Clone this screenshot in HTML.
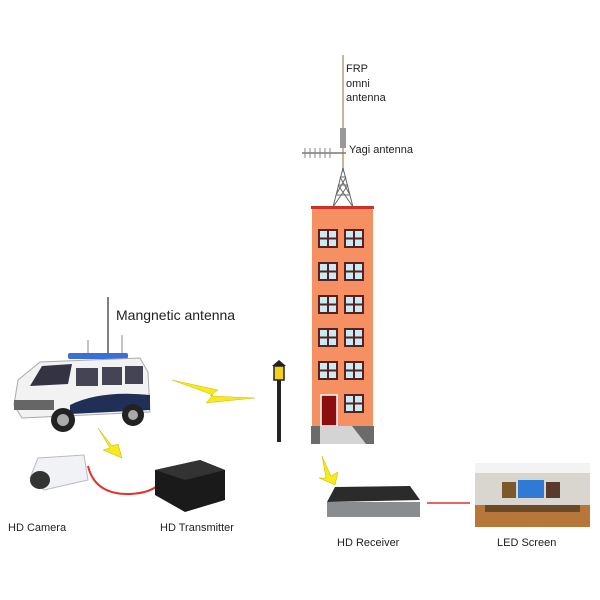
<!DOCTYPE html>
<html><head><style>body{margin:0;background:#fff}svg{display:block}text{font-family:"Liberation Sans",sans-serif;fill:#222}</style></head><body>
<svg width="600" height="600" viewBox="0 0 600 600">
<!-- antenna -->
<line x1="343" y1="55" x2="343" y2="172" stroke="#c9b49a" stroke-width="2"/>
<rect x="340" y="128" width="6" height="20" fill="#999"/>
<line x1="302" y1="153" x2="346" y2="153" stroke="#777" stroke-width="1.5"/>
<g stroke="#888" stroke-width="1"><line x1="305" y1="148" x2="305" y2="158"/><line x1="310" y1="148" x2="310" y2="158"/><line x1="315" y1="148" x2="315" y2="158"/><line x1="320" y1="148" x2="320" y2="158"/><line x1="325" y1="148" x2="325" y2="158"/><line x1="330" y1="148" x2="330" y2="158"/></g>
<g stroke="#666" stroke-width="1" fill="none"><path d="M343 168 L333 207 M343 168 L353 207 M336 195 L350 195 M338 185 L348 185 M340 177 L346 177 M333 207 L348 185 M353 207 L338 185 M336 195 L346 177 M350 195 L340 177"/></g>
<text x="346" y="72" font-size="11">FRP</text><text x="346" y="87" font-size="11">omni</text><text x="346" y="101" font-size="11">antenna</text>
<text x="349" y="153" font-size="11">Yagi antenna</text>
<!-- building -->
<rect x="312" y="208" width="61" height="218" fill="#f59063"/>
<rect x="311" y="206" width="63" height="3" fill="#c9332a"/>
<g fill="#c7ecf5" stroke="#5a1f1f" stroke-width="2">
<rect x="319" y="230" width="18" height="17"/><rect x="345" y="230" width="18" height="17"/>
<rect x="319" y="263" width="18" height="17"/><rect x="345" y="263" width="18" height="17"/>
<rect x="319" y="296" width="18" height="17"/><rect x="345" y="296" width="18" height="17"/>
<rect x="319" y="329" width="18" height="17"/><rect x="345" y="329" width="18" height="17"/>
<rect x="319" y="362" width="18" height="17"/><rect x="345" y="362" width="18" height="17"/>
<rect x="345" y="395" width="18" height="17"/></g>
<g stroke="#5a1f1f" stroke-width="2"><path d="M328 230v17M319 238.5h18M354 230v17M345 238.5h18M328 263v17M319 271.5h18M354 263v17M345 271.5h18M328 296v17M319 304.5h18M354 296v17M345 304.5h18M328 329v17M319 337.5h18M354 329v17M345 337.5h18M328 362v17M319 370.5h18M354 362v17M345 370.5h18M354 395v17M345 403.5h18"/></g>
<rect x="321" y="395" width="16" height="31" fill="#8b0f0f" stroke="#fff" stroke-width="1.5"/>
<rect x="311" y="426" width="63" height="18" fill="#6b6b6b"/>
<path d="M320 426 H352 L366 444 H320 Z" fill="#d4d4d4"/>
<!-- lamp -->
<rect x="277" y="380" width="4" height="62" fill="#222"/>
<rect x="274" y="366" width="10" height="14" fill="#f2d21a" stroke="#222" stroke-width="1.5"/>
<path d="M272 366 L279 360 L286 366Z" fill="#222"/>
<!-- bolt -->
<path d="M172 380 L218 390 L210 396 L255 398 L206 403 L213 395 Z" fill="#f7e91c" stroke="#d5b800" stroke-width="0.5"/>
<!-- van -->
<line x1="108" y1="297" x2="108" y2="356" stroke="#555" stroke-width="1.5"/>
<line x1="88" y1="340" x2="88" y2="356" stroke="#888"/><line x1="122" y1="335" x2="122" y2="356" stroke="#888"/>
<rect x="68" y="353" width="60" height="6" rx="2" fill="#3a6fd8"/>
<path d="M18 380 L40 362 L140 358 L148 372 L150 412 L22 418 L14 405 Z" fill="#f2f2f2" stroke="#aaa"/>
<path d="M42 366 L72 364 L68 384 L30 386 Z" fill="#334"/>
<rect x="76" y="368" width="22" height="18" fill="#445"/><rect x="102" y="367" width="20" height="18" fill="#445"/><rect x="125" y="366" width="18" height="18" fill="#445"/>
<path d="M70 405 Q100 390 150 395 L150 410 L70 414Z" fill="#1f2f55"/>
<rect x="14" y="400" width="40" height="10" fill="#666"/>
<circle cx="63" cy="420" r="12" fill="#222"/><circle cx="63" cy="420" r="6" fill="#aaa"/>
<circle cx="133" cy="415" r="11" fill="#222"/><circle cx="133" cy="415" r="5" fill="#aaa"/>
<text x="116" y="320" font-size="14">Mangnetic antenna</text>
<!-- yellow arrows -->
<path d="M98 428 L110 448 L103 450 L122 458 L118 444 L112 446 Z" fill="#f7e91c" stroke="#c9b000" stroke-width="0.5"/>
<path d="M322 456 L326 478 L319 478 L335 485 L338 472 L331 476 Z" fill="#f7e91c" stroke="#c9b000" stroke-width="0.5"/>
<!-- camera -->
<path d="M38 458 L84 455 L88 480 L44 490 L30 478 Z" fill="#f0f2f5" stroke="#bbb"/>
<ellipse cx="40" cy="480" rx="10" ry="9" fill="#333"/>
<path d="M88 466 Q95 495 130 494 Q150 493 158 485" fill="none" stroke="#e53030" stroke-width="2"/>
<!-- transmitter -->
<path d="M155 470 L200 460 L225 470 L225 500 L185 512 L155 495 Z" fill="#1a1a1a"/>
<path d="M155 470 L200 460 L225 470 L185 480 Z" fill="#333"/>
<text x="8" y="531" font-size="11">HD Camera</text>
<text x="160" y="531" font-size="11">HD Transmitter</text>
<!-- receiver -->
<path d="M335 487 L410 486 L420 500 L327 502 Z" fill="#2b2b2b"/>
<rect x="327" y="502" width="93" height="15" fill="#8a8d90"/>
<line x1="427" y1="503" x2="470" y2="503" stroke="#d33" stroke-width="1.5"/>
<!-- LED room -->
<rect x="475" y="463" width="115" height="64" fill="#d9d6d0"/>
<rect x="475" y="463" width="115" height="10" fill="#f3f3f3"/>
<rect x="475" y="505" width="115" height="22" fill="#b8773a"/>
<rect x="502" y="482" width="14" height="16" fill="#7a5a2a"/><rect x="518" y="480" width="26" height="18" fill="#2f7ad6"/><rect x="546" y="482" width="14" height="16" fill="#5a3a2a"/>
<rect x="485" y="505" width="95" height="7" fill="#6b4a2a"/>
<text x="337" y="546" font-size="11">HD Receiver</text>
<text x="497" y="546" font-size="11">LED Screen</text>
</svg>
</body></html>
